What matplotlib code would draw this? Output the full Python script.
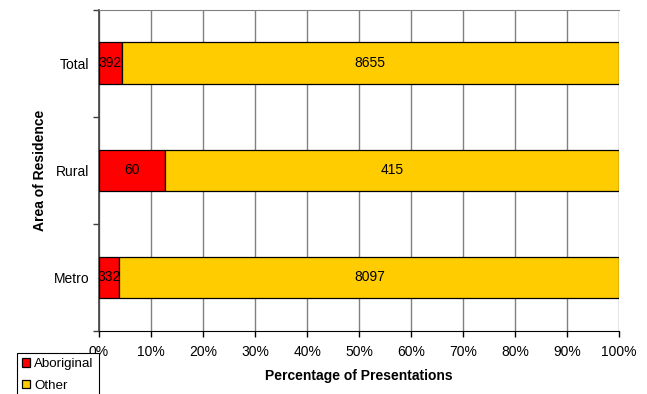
import matplotlib.pyplot as plt
import numpy as np

plt.rcParams['font.family'] = ['Liberation Sans', 'DejaVu Sans']

# dati
areas = ['Metro', 'Rural', 'Total']
aboriginal = [332, 60, 392]
other = [8097, 415, 8655]

ab = np.array(aboriginal, dtype=float)
ot = np.array(other, dtype=float)
tot = ab + ot
ab_pct = ab / tot * 100
ot_pct = ot / tot * 100

fig = plt.figure(figsize=(6.47, 3.94), dpi=100)
ax = fig.add_axes([0.153, 0.160, 0.804, 0.815])

y = np.arange(len(areas))
h = 0.39
ax.barh(y, ab_pct, height=h, color='#ff0000', edgecolor='black', linewidth=0.9,
        label='Aboriginal', zorder=3)
ax.barh(y, ot_pct, height=h, left=ab_pct, color='#ffcc00', edgecolor='black',
        linewidth=0.9, label='Other', zorder=3)

for i in range(len(areas)):
    ax.text(ab_pct[i] / 2, y[i], str(aboriginal[i]), ha='center', va='center',
            fontsize=10, zorder=4)
    ax.text(ab_pct[i] + ot_pct[i] / 2, y[i], str(other[i]), ha='center',
            va='center', fontsize=10, zorder=4)

ax.set_xlim(0, 100)
ax.set_ylim(-0.5, len(areas) - 0.5)
ax.set_xticks(np.arange(0, 101, 10))
ax.set_xticklabels([f'{v}%' for v in range(0, 101, 10)], fontsize=10)
ax.set_yticks(y)
ax.set_yticklabels(areas, fontsize=10)
ax.set_yticks(np.arange(-0.5, len(areas), 1), minor=True)
ax.tick_params(axis='y', which='major', length=0, pad=7)
ax.tick_params(axis='y', which='minor', length=4, width=1, color='#404040')
ax.tick_params(axis='x', length=4, width=1, color='black', pad=6)

ax.grid(True, axis='x', color='#808080', linewidth=1, zorder=0)
ax.spines['right'].set_visible(False)
ax.spines['top'].set_color('#808080')
ax.spines['left'].set_color('#404040')
ax.spines['left'].set_linewidth(1.2)
ax.spines['bottom'].set_color('black')

ax.set_xlabel('Percentage of Presentations', fontsize=10, fontweight='bold',
              labelpad=7)
ax.set_ylabel('Area of Residence', fontsize=10, fontweight='bold', labelpad=5)

leg = fig.legend(loc='upper left', bbox_to_anchor=(0.026, 0.104), fontsize=9.6,
                 fancybox=False, edgecolor='black', framealpha=1,
                 handlelength=0.6, handleheight=0.6, handletextpad=0.3,
                 borderpad=0.4, labelspacing=0.7, borderaxespad=0)
leg.get_frame().set_linewidth(0.8)

fig.savefig('out.png', dpi=100)
